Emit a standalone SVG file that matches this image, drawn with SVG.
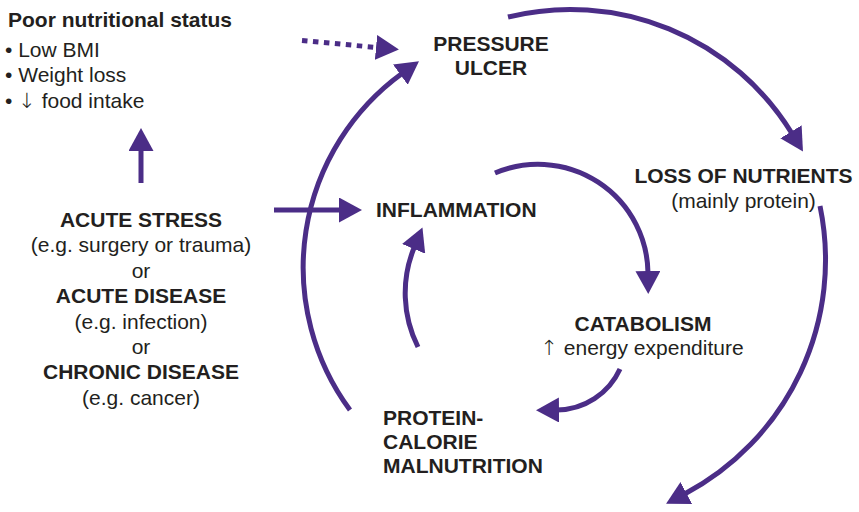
<svg xmlns="http://www.w3.org/2000/svg" width="859" height="512" viewBox="0 0 859 512">
  <style>
    text { font-family: "Liberation Sans", Arial, "DejaVu Sans", sans-serif; font-size: 21px; fill: #231f20; }
    .b { font-weight: bold; }
    .c { text-anchor: middle; }
    .arr { font-family: "DejaVu Sans", sans-serif; font-weight: 200; }
    .conn { fill: none; stroke: #4b2d87; stroke-width: 5; marker-end: url(#ah); }
    .dot { stroke-dasharray: 5.5 5.5; }
  </style>
  <defs>
    <marker id="ah" markerUnits="userSpaceOnUse" markerWidth="24" markerHeight="25" viewBox="0 0 24 25" refX="2" refY="12.5" orient="auto">
      <path d="M0,0 L23,12.5 L0,25 Z" fill="#4b2d87"/>
    </marker>
  </defs>
  <rect width="859" height="512" fill="#ffffff"/>

  <g id="connectors">
    <path class="conn" d="M141,183 L141,149"/>
    <path class="conn" d="M274,210 L341,210"/>
    <path class="conn dot" d="M302,40.5 L378,47.6"/>
    <path class="conn" d="M350,410 A240,240 0 0 1 402,73.5"/>
    <path class="conn" d="M508,17 A260,260 0 0 1 792,133.5"/>
    <path class="conn" d="M820,206 A265,265 0 0 1 684.6,494"/>
    <path class="conn" d="M495,173 A110,110 0 0 1 648,273"/>
    <path class="conn" d="M620,369 A70,70 0 0 1 557,410"/>
    <path class="conn" d="M418,347 A120,120 0 0 1 414.4,247"/>
  </g>

  <g id="poor-nutritional-status">
    <text class="b" x="8" y="27">Poor nutritional status</text>
    <text x="5" y="57">• Low BMI</text>
    <text x="5" y="82">• Weight loss</text>
    <text x="5" y="108">• <tspan class="arr">↓</tspan> food intake</text>
  </g>

  <g id="acute-stress">
    <text class="b c" x="141" y="227">ACUTE STRESS</text>
    <text class="c" x="141" y="252">(e.g. surgery or trauma)</text>
    <text class="c" x="141" y="278">or</text>
    <text class="b c" x="141" y="303">ACUTE DISEASE</text>
    <text class="c" x="141" y="329">(e.g. infection)</text>
    <text class="c" x="141" y="354">or</text>
    <text class="b c" x="141" y="379">CHRONIC DISEASE</text>
    <text class="c" x="141" y="405">(e.g. cancer)</text>
  </g>

  <g id="pressure-ulcer">
    <text class="b c" x="491" y="51">PRESSURE</text>
    <text class="b c" x="491" y="75">ULCER</text>
  </g>

  <g id="loss-of-nutrients">
    <text class="b c" x="743.5" y="183">LOSS OF NUTRIENTS</text>
    <text class="c" x="743.5" y="208">(mainly protein)</text>
  </g>

  <g id="inflammation">
    <text class="b" x="376" y="217">INFLAMMATION</text>
  </g>

  <g id="catabolism">
    <text class="b c" x="643" y="331">CATABOLISM</text>
    <text class="c" x="642" y="355"><tspan class="arr">↑</tspan> energy expenditure</text>
  </g>

  <g id="protein-calorie-malnutrition">
    <text class="b" x="383" y="425">PROTEIN-</text>
    <text class="b" x="383" y="449">CALORIE</text>
    <text class="b" x="383" y="473">MALNUTRITION</text>
  </g>
</svg>
